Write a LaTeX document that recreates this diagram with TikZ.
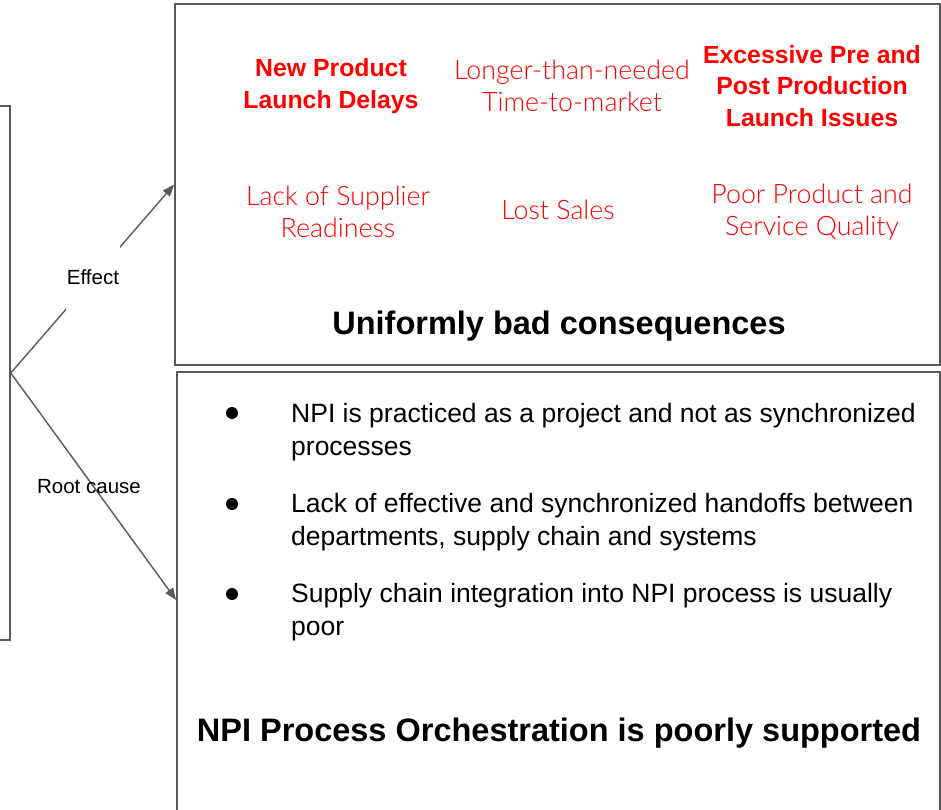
\documentclass[tikz,border=0pt]{standalone}
\usepackage{fontspec}
\setmainfont{Liberation Sans}
\newfontfamily\lightfont{Lato Light}
\usetikzlibrary{arrows.meta}
\definecolor{linegray}{HTML}{595959}
\definecolor{pred}{HTML}{FF0000}
\tikzset{
  box/.style={draw=linegray, line width=1.6pt, rectangle, inner sep=0pt},
  conn/.style={draw=linegray, line width=1.4pt, -{Triangle[length=12pt,width=9pt]}},
  redbold/.style={text=pred, font=\fontsize{24.8}{31.5}\selectfont\bfseries, align=center, inner sep=0pt},
  redlight/.style={text=pred, font=\lightfont\fontsize{26.8}{31.8}\selectfont, align=center, inner sep=0pt},
  heading/.style={font=\fontsize{32.5}{38}\selectfont\bfseries, inner sep=0pt},
  bullettext/.style={font=\fontsize{26.5}{33}\selectfont, align=left, anchor=west, inner sep=0pt},
  dot/.style={circle, fill=black, minimum size=12pt, inner sep=0pt},
  lbl/.style={font=\fontsize{20.5}{24}\selectfont, inner sep=0pt},
}
\begin{document}
\begin{tikzpicture}[x=1pt, y=-1pt]
\useasboundingbox (0,0) rectangle (941,809);
\clip (0,0) rectangle (941,809);
% boxes
\node[box, minimum width=30pt, minimum height=534pt] (left) at (-5,373) {};
\node[box, minimum width=765pt, minimum height=361pt] (top) at (557.5,184.5) {};
\node[box, minimum width=763pt, minimum height=456pt] (bottom) at (558.5,600) {};
% connectors
\draw[conn] (left.east) -- (top.west);
\draw[conn] (left.east) -- (bottom.west);
\node[lbl, fill=white, minimum height=70pt, inner xsep=1pt] (eff) at (93,277) {Effect};
\node[lbl] (root) at (89,487) {Root cause};
% consequences
\node[redbold] (npl) at (331,86) {New Product\\Launch Delays};
\node[redlight] (ltm) at (572,86) {Longer-than-needed\\Time-to-market};
\node[redbold] (exc) at (812,86) {Excessive Pre and\\Post Production\\Launch Issues};
\node[redlight] (lsr) at (338,212) {Lack of Supplier\\Readiness};
\node[redlight] (lost) at (558,210) {Lost Sales};
\node[redlight] (ppq) at (812,212) {Poor Product and\\Service Quality};
\node[heading] (uni) at (559,326) {Uniformly bad consequences};
% root causes
\node[dot] (d1) at (232,413) {};
\node[dot] (d2) at (232,504) {};
\node[dot] (d3) at (232,594) {};
\node[bullettext] (b1) at (291,432) {NPI is practiced as a project and not as synchronized\\processes};
\node[bullettext] (b2) at (291,522) {Lack of effective and synchronized handoffs between\\departments, supply chain and systems};
\node[bullettext] (b3) at (291,612) {Supply chain integration into NPI process is usually\\poor};
\node[heading] (npi) at (559,733) {NPI Process Orchestration is poorly supported};
\end{tikzpicture}
\end{document}
